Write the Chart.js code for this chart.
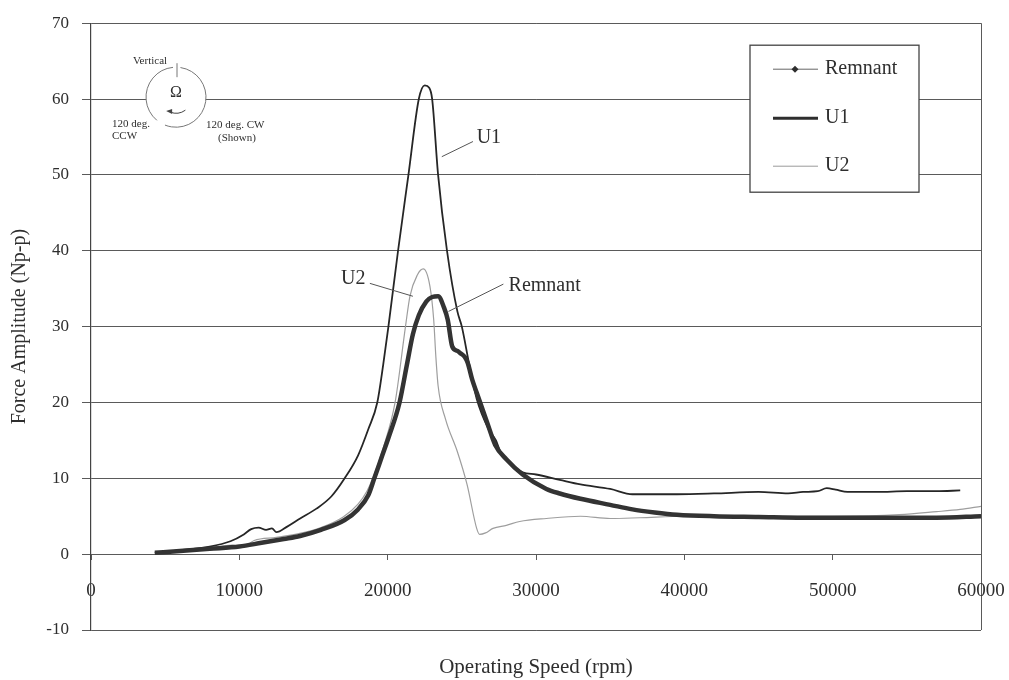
<!DOCTYPE html>
<html>
<head>
<meta charset="utf-8">
<script src="https://cdn.jsdelivr.net/npm/chart.js@4.4.1/dist/chart.umd.min.js"></script>
<style>
  html, body { margin: 0; padding: 0; background: #fff; }
  #wrap { width: 1009px; height: 680px; }
</style>
</head>
<body>
<div id="wrap"><canvas id="chart" width="1009" height="680"></canvas></div>
<script>
// values (rpm vs N p-p)
const remnantRpm = [4300, 6000, 8000, 10000, 11500, 13000, 14100, 15500, 17100, 18000, 18700, 19100, 19600, 20100, 20800, 21300, 21700, 22100, 22600, 23000, 23400, 23800, 24050, 24350, 24700, 24900, 25200, 25400, 25700, 26000, 26700, 27250, 28000, 29100, 30700, 31600, 33000, 35000, 36500, 38000, 39500, 42000, 45000, 48000, 51000, 54000, 57000, 60000];
const remnantAmp = [0.2, 0.4, 0.7, 1.0, 1.5, 2.0, 2.4, 3.2, 4.5, 5.9, 7.8, 10, 12.8, 15.6, 20, 25, 29, 31.5, 33.3, 33.9, 34, 32.5, 30.9, 27.4, 26.8, 26.5, 26, 25.2, 23, 21.3, 17.4, 14.4, 12.5, 10.5, 8.6, 8.0, 7.3, 6.5, 5.9, 5.5, 5.2, 5.0, 4.9, 4.8, 4.8, 4.8, 4.8, 5.0];

const u1Rpm = [4300, 6000, 8000, 9400, 10300, 10800, 11300, 11800, 12200, 12500, 13200, 14100, 15200, 16200, 17100, 18000, 18700, 19300, 19700, 20050, 20700, 21400, 22100, 22500, 22800, 23000, 23400, 24000, 24700, 25000, 25500, 26000, 26800, 27300, 27600, 28000, 29100, 30000, 31600, 33000, 35000, 36500, 39500, 42000, 45000, 47000, 48000, 49000, 49600, 50200, 51000, 53000, 55000, 57000, 58600];
const u1Amp = [0.2, 0.5, 1.0, 1.7, 2.6, 3.3, 3.5, 3.2, 3.4, 2.9, 3.6, 4.7, 6.0, 7.6, 10, 13, 16.5, 20, 25, 30, 40, 50, 60, 61.8, 61.5, 60, 50, 40, 32, 30, 25, 20.5, 16.5, 15, 13.5, 12.4, 10.8, 10.5, 9.8, 9.2, 8.6, 7.9, 7.9, 8.0, 8.2, 8.0, 8.2, 8.3, 8.7, 8.5, 8.2, 8.2, 8.3, 8.3, 8.4];

const u2Rpm = [4300, 6000, 8000, 9500, 10200, 11000, 12500, 14000, 15500, 17000, 18000, 18600, 19000, 19700, 20500, 21200, 21500, 22000, 22400, 22850, 23100, 23250, 23400, 23900, 24700, 25350, 26000, 26200, 26600, 27100, 28000, 28900, 30700, 33000, 35000, 37000, 40000, 45000, 50000, 54500, 57000, 58600, 60000];
const u2Amp = [0.2, 0.4, 0.8, 1.2, 0.9, 1.8, 2.2, 2.7, 3.5, 4.9, 6.6, 8.3, 10, 14, 20, 30, 34, 36.8, 37.6, 35.3, 31, 26, 22.2, 17.8, 13.5, 9.2, 3.4, 2.6, 2.8, 3.4, 3.8, 4.3, 4.7, 5.0, 4.7, 4.8, 5.0, 5.0, 5.0, 5.2, 5.6, 5.9, 6.3];

const seriesNames = ['Remnant', 'U1', 'U2'];

// callout labels, in data units: text anchor + leader line
const callouts = [
  { text: 'U1', align: 'left', at: [26000, 54.9], from: [25750, 54.4], to: [23650, 52.4] },
  { text: 'U2', align: 'right', at: [18500, 36.3], from: [18800, 35.7], to: [21700, 34.0] },
  { text: 'Remnant', align: 'left', at: [28150, 35.4], from: [27800, 35.6], to: [24100, 32.0] }
];

const SERIF = '"Liberation Serif", "Times New Roman", serif';
const INK = '#2e2e2e';
const GRID = '#5a5a5a';

Chart.defaults.font.family = SERIF;
Chart.defaults.color = INK;

function pts(xs, ys) { return xs.map((x, i) => ({ x, y: ys[i] })); }

// legend box drawn inside the plot, like the Excel original
const boxLegend = {
  id: 'boxLegend',
  afterDraw(chart) {
    const { ctx, chartArea } = chart;
    const x0 = chartArea.right - 231, y0 = chartArea.top + 22, w = 169, h = 147;
    ctx.save();
    ctx.fillStyle = '#fff';
    ctx.fillRect(x0, y0, w, h);
    ctx.strokeStyle = '#444';
    ctx.lineWidth = 1.3;
    ctx.strokeRect(x0, y0, w, h);
    const rows = [24, 73, 121];
    const look = [
      { color: '#666', width: 1, marker: true },
      { color: INK, width: 3 },
      { color: '#9a9a9a', width: 1 }
    ];
    chart.data.datasets.forEach((ds, i) => {
      const y = y0 + rows[i];
      const st = look[i];
      ctx.strokeStyle = st.color;
      ctx.lineWidth = st.width;
      ctx.beginPath();
      ctx.moveTo(x0 + 23, y);
      ctx.lineTo(x0 + 68, y);
      ctx.stroke();
      if (st.marker) {
        const mx = x0 + 45, r = 3.5;
        ctx.fillStyle = INK;
        ctx.beginPath();
        ctx.moveTo(mx, y - r); ctx.lineTo(mx + r, y); ctx.lineTo(mx, y + r); ctx.lineTo(mx - r, y);
        ctx.closePath();
        ctx.fill();
      }
      ctx.fillStyle = INK;
      ctx.font = '20px ' + SERIF;
      ctx.textAlign = 'left';
      ctx.textBaseline = 'middle';
      ctx.fillText(ds.label, x0 + 75, y);
    });
    ctx.restore();
  }
};

// "U1", "U2", "Remnant" call-outs with leader lines
const calloutPlugin = {
  id: 'callouts',
  afterDatasetsDraw(chart) {
    const { ctx, scales: { x, y } } = chart;
    ctx.save();
    ctx.strokeStyle = '#555';
    ctx.lineWidth = 1;
    ctx.fillStyle = INK;
    ctx.font = '20px ' + SERIF;
    ctx.textBaseline = 'middle';
    callouts.forEach(c => {
      ctx.beginPath();
      ctx.moveTo(x.getPixelForValue(c.from[0]), y.getPixelForValue(c.from[1]));
      ctx.lineTo(x.getPixelForValue(c.to[0]), y.getPixelForValue(c.to[1]));
      ctx.stroke();
      ctx.textAlign = c.align;
      ctx.fillText(c.text, x.getPixelForValue(c.at[0]), y.getPixelForValue(c.at[1]));
    });
    ctx.restore();
  }
};

// little rotor sketch in the top-left corner
const insetPlugin = {
  id: 'inset',
  afterDraw(chart) {
    const { ctx, chartArea } = chart;
    const cx = chartArea.left + 85, cy = chartArea.top + 74, r = 30;
    ctx.save();
    ctx.fillStyle = '#fff';
    ctx.beginPath(); ctx.arc(cx, cy, r, 0, Math.PI * 2); ctx.fill();
    ctx.strokeStyle = '#777';
    ctx.lineWidth = 1;
    ctx.beginPath(); ctx.arc(cx, cy, r, -Math.PI / 2 + 0.15, Math.PI * 0.62); ctx.stroke();
    ctx.beginPath(); ctx.arc(cx, cy, r, Math.PI * 0.72, Math.PI * 1.5 - 0.1); ctx.stroke();
    // vertical reference mark
    ctx.beginPath(); ctx.moveTo(cx + 1, cy - 34); ctx.lineTo(cx + 1, cy - 20); ctx.stroke();
    // rotation arrow under omega
    ctx.strokeStyle = '#444';
    ctx.beginPath(); ctx.arc(cx, cy, 16, Math.PI * 0.3, Math.PI * 0.62); ctx.stroke();
    const ax = cx + 16 * Math.cos(Math.PI * 0.62), ay = cy + 16 * Math.sin(Math.PI * 0.62);
    ctx.fillStyle = '#444';
    ctx.beginPath(); ctx.moveTo(ax - 4, ay - 1); ctx.lineTo(ax + 2, ay - 3); ctx.lineTo(ax + 2, ay + 2); ctx.closePath(); ctx.fill();
    ctx.fillStyle = INK;
    ctx.textBaseline = 'middle';
    ctx.textAlign = 'center';
    ctx.font = '16px ' + SERIF;
    ctx.fillText('Ω', cx, cy - 4);
    ctx.font = '11px ' + SERIF;
    ctx.fillText('Vertical', cx - 26, cy - 36);
    ctx.textAlign = 'left';
    ctx.fillText('120 deg.', cx - 64, cy + 27);
    ctx.fillText('CCW', cx - 64, cy + 39);
    ctx.fillText('120 deg. CW', cx + 30, cy + 28);
    ctx.fillText('(Shown)', cx + 42, cy + 41);
    ctx.restore();
  }
};

const ctx = document.getElementById('chart').getContext('2d');
new Chart(ctx, {
  type: 'line',
  data: {
    datasets: [
      { label: seriesNames[0], data: pts(remnantRpm, remnantAmp), borderColor: '#333', borderWidth: 4.5, pointRadius: 0, cubicInterpolationMode: 'monotone' },
      { label: seriesNames[1], data: pts(u1Rpm, u1Amp), borderColor: '#262626', borderWidth: 1.8, pointRadius: 0, cubicInterpolationMode: 'monotone' },
      { label: seriesNames[2], data: pts(u2Rpm, u2Amp), borderColor: '#9e9e9e', borderWidth: 1.2, pointRadius: 0, cubicInterpolationMode: 'monotone' }
    ]
  },
  options: {
    responsive: false,
    animation: false,
    devicePixelRatio: 1,
    layout: { padding: { left: 0, right: 28, top: 18, bottom: 0 } },
    plugins: { legend: { display: false }, tooltip: { enabled: false } },
    scales: {
      x: {
        type: 'linear', position: 'bottom', min: 0, max: 60000,
        ticks: { display: false, stepSize: 10000 },
        grid: { color: c => (c.tick && c.tick.value === 60000 ? GRID : 'rgba(0,0,0,0)'), drawTicks: false },
        border: { display: false },
        title: { display: true, text: 'Operating Speed (rpm)', font: { size: 21 }, color: INK, padding: { top: 0, bottom: 0 } },
        afterFit: s => { s.height = 50; }
      },
      x2: {
        type: 'linear', axis: 'x', position: { y: 0 }, min: 0, max: 60000,
        ticks: { stepSize: 10000, padding: 19, font: { size: 19 }, color: INK, maxRotation: 0, autoSkip: false, callback: v => String(v) },
        grid: { drawOnChartArea: false, drawTicks: true, tickLength: 6, color: GRID },
        border: { display: false },
        afterFit: s => { s.height = 0; s.paddingLeft = 0; s.paddingRight = 0; }
      },
      y: {
        type: 'linear', min: -10, max: 70,
        ticks: { stepSize: 10, padding: 13, font: { size: 17 }, color: INK, callback: v => String(v) },
        grid: { color: GRID, tickLength: 9 },
        border: { color: '#444', width: 1.2 },
        title: { display: true, text: 'Force Amplitude (Np-p)', font: { size: 20 }, color: INK, padding: { top: 8, bottom: 0 } },
        afterFit: s => { s.width = 91; }
      }
    }
  },
  plugins: [calloutPlugin, insetPlugin, boxLegend]
});
</script>
</body>
</html>
